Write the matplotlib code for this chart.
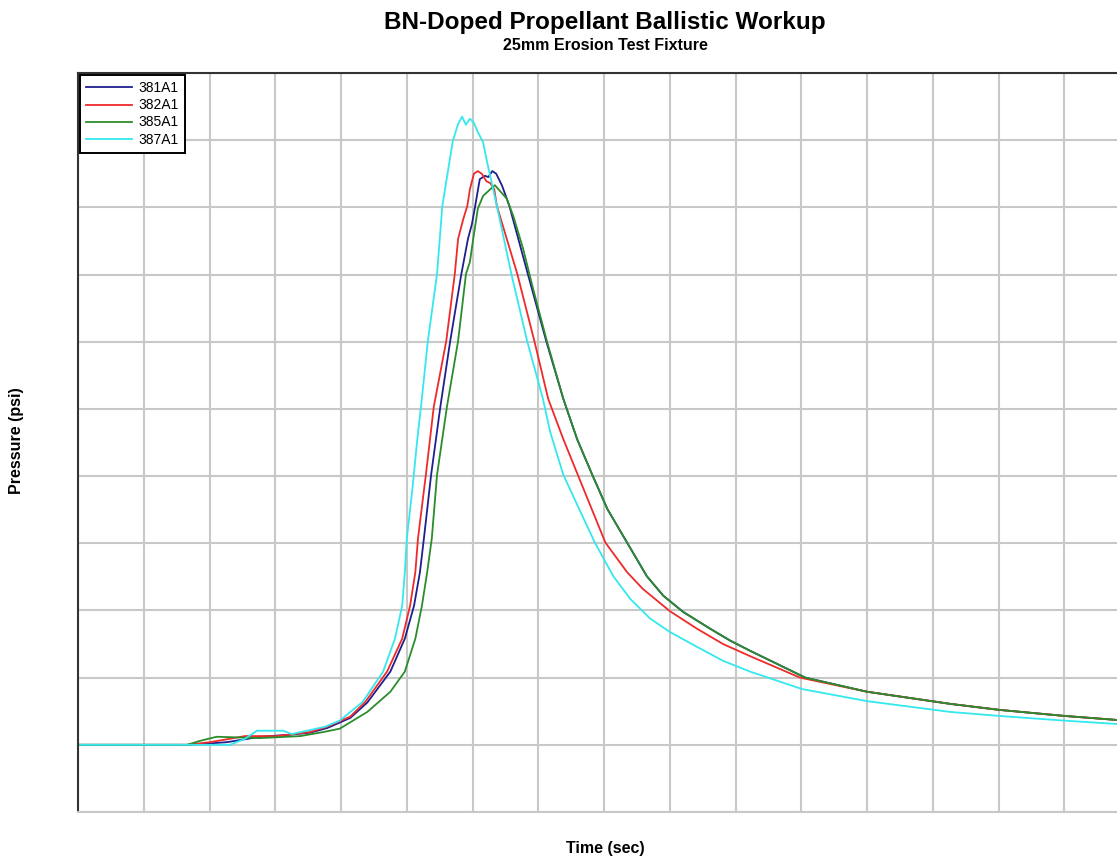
import matplotlib
matplotlib.use("Agg")
import matplotlib.pyplot as plt

# values, in grid divisions (no tick labels on the original)
# time axis: divisions from the left edge; pressure: divisions above baseline
t_381 = [0.00, 1.66, 1.86, 2.27, 2.77, 3.22, 3.53, 3.79, 4.14, 4.40, 4.75, 4.97,
         5.11, 5.20, 5.26, 5.37, 5.51, 5.66, 5.83, 5.93, 5.99, 6.04, 6.11, 6.19,
         6.24, 6.30, 6.36, 6.45, 6.56, 6.84, 7.12, 7.38, 7.59, 7.82, 8.05, 8.35,
         8.65, 8.90, 9.20, 9.61, 9.92, 10.22, 11.06, 12.00, 13.26, 14.01, 15.00, 15.80]
p_381 = [0.00, 0.00, 0.01, 0.04, 0.12, 0.15, 0.18, 0.25, 0.40, 0.63, 1.09, 1.58,
         2.07, 2.57, 3.07, 4.02, 5.03, 6.01, 7.01, 7.53, 7.75, 8.02, 8.42, 8.47,
         8.45, 8.54, 8.50, 8.32, 8.02, 7.01, 6.01, 5.15, 4.55, 4.02, 3.51, 3.01,
         2.51, 2.22, 1.98, 1.73, 1.55, 1.40, 1.00, 0.79, 0.61, 0.52, 0.43, 0.37]

t_382 = [0.00, 1.66, 2.01, 2.31, 2.54, 3.03, 3.53, 3.79, 4.14, 4.37, 4.70, 4.93,
         5.05, 5.13, 5.17, 5.29, 5.41, 5.60, 5.73, 5.78, 5.86, 5.92, 5.96, 6.02,
         6.08, 6.14, 6.21, 6.27, 6.33, 6.37, 6.68, 6.94, 7.15, 7.38, 7.60,
         8.02, 8.35, 8.59, 9.00, 9.41, 9.81, 10.22, 10.98, 12.00, 13.26, 14.01,
         15.00, 15.80]
p_382 = [0.00, 0.00, 0.04, 0.09, 0.13, 0.13, 0.19, 0.27, 0.42, 0.64, 1.09, 1.58,
         2.07, 2.57, 3.07, 4.02, 5.03, 6.01, 7.01, 7.53, 7.83, 8.02, 8.27, 8.50,
         8.54, 8.50, 8.39, 8.36, 8.27, 8.02, 7.01, 6.01, 5.15, 4.55, 4.02,
         3.01, 2.57, 2.32, 1.99, 1.73, 1.50, 1.32, 1.00, 0.79, 0.61, 0.52,
         0.43, 0.37]

t_385 = [0.00, 1.66, 1.86, 2.11, 2.77, 3.38, 3.73, 3.98, 4.40, 4.75, 4.97, 5.13,
         5.23, 5.31, 5.38, 5.46, 5.61, 5.78, 5.90, 5.96, 6.01, 6.08, 6.16, 6.27,
         6.34, 6.42, 6.52, 6.62, 6.77, 6.92, 7.13, 7.38, 7.59, 7.82, 8.05, 8.35,
         8.65, 8.90, 9.20, 9.61, 9.92, 10.22, 11.06, 12.00, 13.26, 14.01, 15.00, 15.80]
p_385 = [0.00, 0.00, 0.06, 0.12, 0.10, 0.13, 0.19, 0.24, 0.49, 0.79, 1.09, 1.58,
         2.07, 2.57, 3.07, 4.02, 5.03, 6.01, 7.01, 7.19, 7.53, 7.98, 8.17, 8.27,
         8.33, 8.24, 8.13, 7.87, 7.38, 6.79, 6.01, 5.15, 4.55, 4.02, 3.51, 3.01,
         2.51, 2.22, 1.98, 1.73, 1.55, 1.40, 1.00, 0.79, 0.61, 0.52, 0.43, 0.37]

t_387 = [0.00, 2.31, 2.54, 2.72, 3.12, 3.25, 3.53, 3.76, 3.98, 4.33, 4.64, 4.82,
         4.93, 4.97, 5.00, 5.08, 5.16, 5.22, 5.32, 5.46, 5.54, 5.70, 5.78, 5.84,
         5.90, 5.96, 6.02, 6.08, 6.16, 6.22, 6.37, 6.59, 6.83, 7.07, 7.18, 7.38,
         7.64, 7.86, 8.14, 8.40, 8.70, 9.00, 9.41, 9.81, 10.22, 11.01, 12.00,
         13.26, 14.01, 15.00, 15.80]
p_387 = [0.00, 0.00, 0.09, 0.21, 0.21, 0.16, 0.22, 0.27, 0.36, 0.64, 1.09, 1.58,
         2.07, 2.57, 3.07, 3.76, 4.55, 5.07, 6.01, 7.01, 8.02, 8.99, 9.24, 9.35,
         9.23, 9.32, 9.26, 9.12, 8.97, 8.68, 8.02, 7.01, 6.01, 5.15, 4.66, 4.02,
         3.47, 3.01, 2.51, 2.17, 1.88, 1.68, 1.46, 1.25, 1.09, 0.83, 0.65,
         0.49, 0.43, 0.36, 0.31]

series = [
    ("381A1", t_381, p_381, "#1f1f8f"),
    ("382A1", t_382, p_382, "#ee2a2a"),
    ("385A1", t_385, p_385, "#2b8c2b"),
    ("387A1", t_387, p_387, "#33e8ee"),
]


def main():
    plt.rcParams["font.family"] = ["Liberation Sans", "DejaVu Sans"]
    fig = plt.figure(figsize=(11.17, 8.56), dpi=100)
    W, H = 1117, 856
    ax = fig.add_axes([78 / W, 1 - 812 / H, (1117 - 78) / W, (812 - 73) / H])

    for label, t, p, color in series:
        ax.plot(t, p, color=color, lw=1.3, label=label)

    ax.set_xlim(0, 15.8)
    ax.set_ylim(-1, 10)
    ax.set_xticks(range(0, 16))
    ax.set_yticks(range(-1, 11))
    ax.grid(True, color="#c8c8c8", lw=1.5)
    ax.set_axisbelow(True)
    ax.tick_params(length=0, labelbottom=False, labelleft=False)
    ax.spines["right"].set_visible(False)
    ax.spines["bottom"].set_color("#c8c8c8")
    ax.spines["bottom"].set_linewidth(1.5)
    for s in ("left", "top"):
        ax.spines[s].set_color("#333333")
        ax.spines[s].set_linewidth(1.5)

    leg = ax.legend(loc="upper left", bbox_to_anchor=(0.0, 1.0), borderaxespad=0.15,
                    fancybox=False, edgecolor="black", framealpha=1, fontsize=10,
                    handlelength=3.3, labelspacing=0.22, borderpad=0.45,
                    handletextpad=0.45)
    leg.get_frame().set_linewidth(1.4)

    fig.text(605 / W, 1 - 22 / H, "BN-Doped Propellant Ballistic Workup",
             ha="center", va="center", fontsize=17.5, fontweight="bold")
    fig.text(605 / W, 1 - 46 / H, "25mm Erosion Test Fixture",
             ha="center", va="center", fontsize=11.5, fontweight="bold")
    fig.text(17 / W, 1 - 441 / H, "Pressure (psi)", rotation=90,
             ha="center", va="center", fontsize=11.5, fontweight="bold")
    fig.text(605 / W, 1 - 848 / H, "Time (sec)",
             ha="center", va="center", fontsize=11.5, fontweight="bold")

    fig.savefig("out.png", dpi=100)


if __name__ == "__main__":
    main()
